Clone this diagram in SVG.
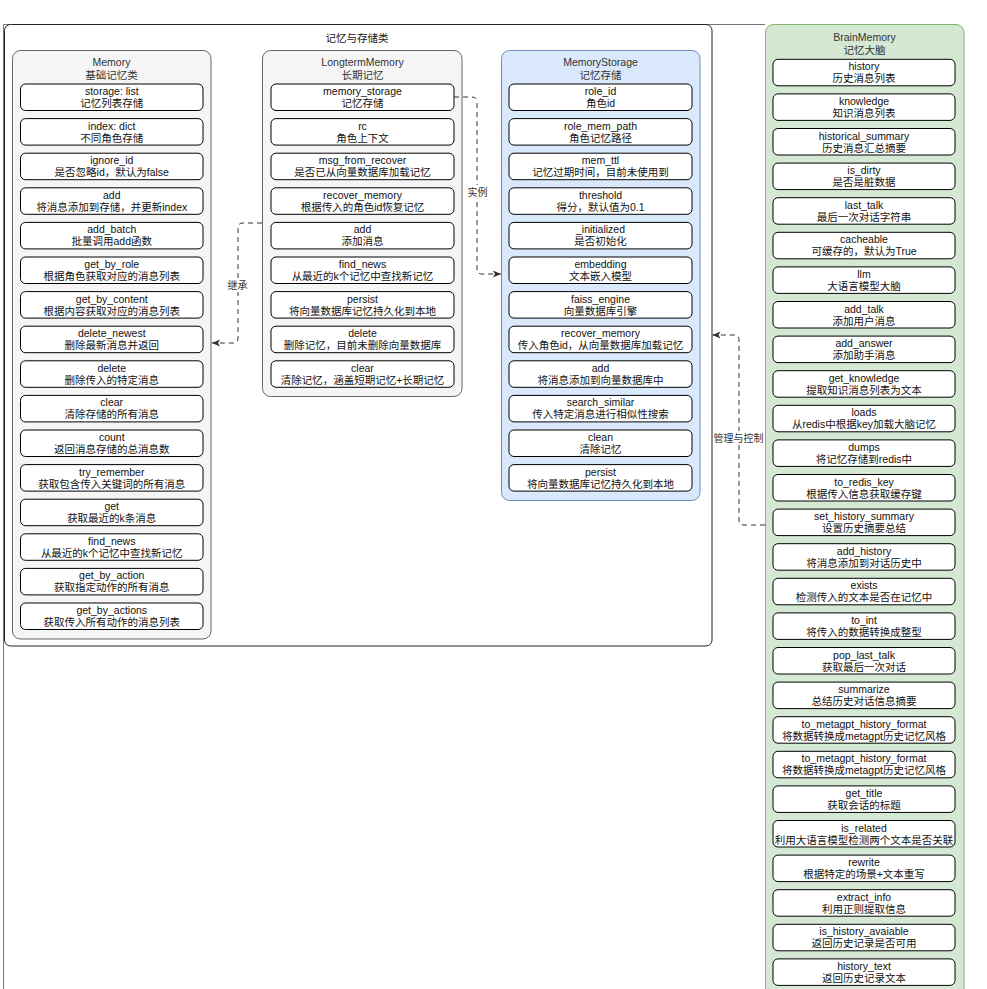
<svg xmlns="http://www.w3.org/2000/svg" width="987" height="989" viewBox="0 0 987 989">
<defs>
<style>
text{font-family:"Liberation Sans","Noto Sans CJK SC",sans-serif;font-size:10.5px;text-anchor:middle;fill:#111}
.frame{fill:none;stroke:#777;stroke-width:1}
.outer{fill:#fff;stroke:#222;stroke-width:1}
.g-gray{fill:#f5f5f5;stroke:#666}
.g-blue{fill:#dae8fc;stroke:#6c8ebf}
.g-green{fill:#d5e8d4;stroke:#82b366}
.gt{fill:#333}
.item rect{fill:#fff;stroke:#000;stroke-width:1}
.edge{fill:none;stroke:#333;stroke-width:1;stroke-dasharray:5 4}
.lbl{fill:#333;font-size:10px}
.lblbg{fill:#fff}
</style>
<marker id="arr" viewBox="0 0 8 8" refX="8" refY="4" markerWidth="8" markerHeight="8" markerUnits="userSpaceOnUse" orient="auto">
<path d="M0,0.5 L8,4 L0,7.5 L2,4 z" fill="#333"/>
</marker>
</defs>
<rect width="987" height="989" fill="#fff"/>
<path class="frame" d="M765,24.5 H3.5 V989"/>

<g id="container">
<rect class="outer" x="4.5" y="24.5" width="707.5" height="621.5" rx="6"/>
<text x="357" y="41.5">记忆与存储类</text>
</g>

<g id="Memory">
<rect class="g-gray" x="12.5" y="50.5" width="198.5" height="588.5" rx="8"/>
<text class="gt" x="111.5" y="65.5">Memory</text>
<text class="gt" x="111.5" y="79">基础记忆类</text>
<g id="m1" class="item" transform="translate(20.5,84)"><rect width="182.5" height="26.5" rx="5"/><text x="91.25" y="11">storage: list<tspan x="91.25" y="23">记忆列表存储</tspan></text></g>
<g id="m2" class="item" transform="translate(20.5,118.6)"><rect width="182.5" height="26.5" rx="5"/><text x="91.25" y="11">index: dict<tspan x="91.25" y="23">不同角色存储</tspan></text></g>
<g id="m3" class="item" transform="translate(20.5,153.2)"><rect width="182.5" height="26.5" rx="5"/><text x="91.25" y="11">ignore_id<tspan x="91.25" y="23">是否忽略id，默认为false</tspan></text></g>
<g id="m4" class="item" transform="translate(20.5,187.8)"><rect width="182.5" height="26.5" rx="5"/><text x="91.25" y="11">add<tspan x="91.25" y="23">将消息添加到存储，并更新index</tspan></text></g>
<g id="m5" class="item" transform="translate(20.5,222.4)"><rect width="182.5" height="26.5" rx="5"/><text x="91.25" y="11">add_batch<tspan x="91.25" y="23">批量调用add函数</tspan></text></g>
<g id="m6" class="item" transform="translate(20.5,257)"><rect width="182.5" height="26.5" rx="5"/><text x="91.25" y="11">get_by_role<tspan x="91.25" y="23">根据角色获取对应的消息列表</tspan></text></g>
<g id="m7" class="item" transform="translate(20.5,291.6)"><rect width="182.5" height="26.5" rx="5"/><text x="91.25" y="11">get_by_content<tspan x="91.25" y="23">根据内容获取对应的消息列表</tspan></text></g>
<g id="m8" class="item" transform="translate(20.5,326.2)"><rect width="182.5" height="26.5" rx="5"/><text x="91.25" y="11">delete_newest<tspan x="91.25" y="23">删除最新消息并返回</tspan></text></g>
<g id="m9" class="item" transform="translate(20.5,360.8)"><rect width="182.5" height="26.5" rx="5"/><text x="91.25" y="11">delete<tspan x="91.25" y="23">删除传入的特定消息</tspan></text></g>
<g id="m10" class="item" transform="translate(20.5,395.4)"><rect width="182.5" height="26.5" rx="5"/><text x="91.25" y="11">clear<tspan x="91.25" y="23">清除存储的所有消息</tspan></text></g>
<g id="m11" class="item" transform="translate(20.5,430)"><rect width="182.5" height="26.5" rx="5"/><text x="91.25" y="11">count<tspan x="91.25" y="23">返回消息存储的总消息数</tspan></text></g>
<g id="m12" class="item" transform="translate(20.5,464.6)"><rect width="182.5" height="26.5" rx="5"/><text x="91.25" y="11">try_remember<tspan x="91.25" y="23">获取包含传入关键词的所有消息</tspan></text></g>
<g id="m13" class="item" transform="translate(20.5,499.2)"><rect width="182.5" height="26.5" rx="5"/><text x="91.25" y="11">get<tspan x="91.25" y="23">获取最近的k条消息</tspan></text></g>
<g id="m14" class="item" transform="translate(20.5,533.8)"><rect width="182.5" height="26.5" rx="5"/><text x="91.25" y="11">find_news<tspan x="91.25" y="23">从最近的k个记忆中查找新记忆</tspan></text></g>
<g id="m15" class="item" transform="translate(20.5,568.4)"><rect width="182.5" height="26.5" rx="5"/><text x="91.25" y="11">get_by_action<tspan x="91.25" y="23">获取指定动作的所有消息</tspan></text></g>
<g id="m16" class="item" transform="translate(20.5,603)"><rect width="182.5" height="26.5" rx="5"/><text x="91.25" y="11">get_by_actions<tspan x="91.25" y="23">获取传入所有动作的消息列表</tspan></text></g>
</g>

<g id="LongtermMemory">
<rect class="g-gray" x="262.5" y="50.5" width="199.5" height="346" rx="8"/>
<text class="gt" x="362.5" y="65.5">LongtermMemory</text>
<text class="gt" x="362.5" y="79">长期记忆</text>
<g id="l1" class="item" transform="translate(271,84)"><rect width="183" height="26.5" rx="5"/><text x="91.5" y="11">memory_storage<tspan x="91.5" y="23">记忆存储</tspan></text></g>
<g id="l2" class="item" transform="translate(271,118.6)"><rect width="183" height="26.5" rx="5"/><text x="91.5" y="11">rc<tspan x="91.5" y="23">角色上下文</tspan></text></g>
<g id="l3" class="item" transform="translate(271,153.2)"><rect width="183" height="26.5" rx="5"/><text x="91.5" y="11">msg_from_recover<tspan x="91.5" y="23">是否已从向量数据库加载记忆</tspan></text></g>
<g id="l4" class="item" transform="translate(271,187.8)"><rect width="183" height="26.5" rx="5"/><text x="91.5" y="11">recover_memory<tspan x="91.5" y="23">根据传入的角色id恢复记忆</tspan></text></g>
<g id="l5" class="item" transform="translate(271,222.4)"><rect width="183" height="26.5" rx="5"/><text x="91.5" y="11">add<tspan x="91.5" y="23">添加消息</tspan></text></g>
<g id="l6" class="item" transform="translate(271,257)"><rect width="183" height="26.5" rx="5"/><text x="91.5" y="11">find_news<tspan x="91.5" y="23">从最近的k个记忆中查找新记忆</tspan></text></g>
<g id="l7" class="item" transform="translate(271,291.6)"><rect width="183" height="26.5" rx="5"/><text x="91.5" y="11">persist<tspan x="91.5" y="23">将向量数据库记忆持久化到本地</tspan></text></g>
<g id="l8" class="item" transform="translate(271,326.2)"><rect width="183" height="26.5" rx="5"/><text x="91.5" y="11">delete<tspan x="91.5" y="23">删除记忆，目前未删除向量数据库</tspan></text></g>
<g id="l9" class="item" transform="translate(271,360.8)"><rect width="183" height="26.5" rx="5"/><text x="91.5" y="11">clear<tspan x="91.5" y="23">清除记忆，涵盖短期记忆+长期记忆</tspan></text></g>
</g>

<g id="MemoryStorage">
<rect class="g-blue" x="501.5" y="50.5" width="198.5" height="450" rx="8"/>
<text class="gt" x="600.5" y="65.5">MemoryStorage</text>
<text class="gt" x="600.5" y="79">记忆存储</text>
<g id="s1" class="item" transform="translate(509,84)"><rect width="183" height="26.5" rx="5"/><text x="91.5" y="11">role_id<tspan x="91.5" y="23">角色id</tspan></text></g>
<g id="s2" class="item" transform="translate(509,118.6)"><rect width="183" height="26.5" rx="5"/><text x="91.5" y="11">role_mem_path<tspan x="91.5" y="23">角色记忆路径</tspan></text></g>
<g id="s3" class="item" transform="translate(509,153.2)"><rect width="183" height="26.5" rx="5"/><text x="91.5" y="11">mem_ttl<tspan x="91.5" y="23">记忆过期时间，目前未使用到</tspan></text></g>
<g id="s4" class="item" transform="translate(509,187.8)"><rect width="183" height="26.5" rx="5"/><text x="91.5" y="11">threshold<tspan x="91.5" y="23">得分，默认值为0.1</tspan></text></g>
<g id="s5" class="item" transform="translate(509,222.4)"><rect width="183" height="26.5" rx="5"/><text x="91.5" y="11">_initialized<tspan x="91.5" y="23">是否初始化</tspan></text></g>
<g id="s6" class="item" transform="translate(509,257)"><rect width="183" height="26.5" rx="5"/><text x="91.5" y="11">embedding<tspan x="91.5" y="23">文本嵌入模型</tspan></text></g>
<g id="s7" class="item" transform="translate(509,291.6)"><rect width="183" height="26.5" rx="5"/><text x="91.5" y="11">faiss_engine<tspan x="91.5" y="23">向量数据库引擎</tspan></text></g>
<g id="s8" class="item" transform="translate(509,326.2)"><rect width="183" height="26.5" rx="5"/><text x="91.5" y="11">recover_memory<tspan x="91.5" y="23">传入角色id，从向量数据库加载记忆</tspan></text></g>
<g id="s9" class="item" transform="translate(509,360.8)"><rect width="183" height="26.5" rx="5"/><text x="91.5" y="11">add<tspan x="91.5" y="23">将消息添加到向量数据库中</tspan></text></g>
<g id="s10" class="item" transform="translate(509,395.4)"><rect width="183" height="26.5" rx="5"/><text x="91.5" y="11">search_similar<tspan x="91.5" y="23">传入特定消息进行相似性搜索</tspan></text></g>
<g id="s11" class="item" transform="translate(509,430)"><rect width="183" height="26.5" rx="5"/><text x="91.5" y="11">clean<tspan x="91.5" y="23">清除记忆</tspan></text></g>
<g id="s12" class="item" transform="translate(509,464.6)"><rect width="183" height="26.5" rx="5"/><text x="91.5" y="11">persist<tspan x="91.5" y="23">将向量数据库记忆持久化到本地</tspan></text></g>
</g>

<g id="BrainMemory">
<rect class="g-green" x="765.5" y="24.5" width="198.5" height="980" rx="8"/>
<text class="gt" x="864.5" y="41">BrainMemory</text>
<text class="gt" x="864.5" y="54">记忆大脑</text>
<g id="b1" class="item" transform="translate(773,59.3)"><rect width="182" height="26.5" rx="5"/><text x="91" y="11">history<tspan x="91" y="23">历史消息列表</tspan></text></g>
<g id="b2" class="item" transform="translate(773,93.9)"><rect width="182" height="26.5" rx="5"/><text x="91" y="11">knowledge<tspan x="91" y="23">知识消息列表</tspan></text></g>
<g id="b3" class="item" transform="translate(773,128.5)"><rect width="182" height="26.5" rx="5"/><text x="91" y="11">historical_summary<tspan x="91" y="23">历史消息汇总摘要</tspan></text></g>
<g id="b4" class="item" transform="translate(773,163.1)"><rect width="182" height="26.5" rx="5"/><text x="91" y="11">is_dirty<tspan x="91" y="23">是否是脏数据</tspan></text></g>
<g id="b5" class="item" transform="translate(773,197.7)"><rect width="182" height="26.5" rx="5"/><text x="91" y="11">last_talk<tspan x="91" y="23">最后一次对话字符串</tspan></text></g>
<g id="b6" class="item" transform="translate(773,232.3)"><rect width="182" height="26.5" rx="5"/><text x="91" y="11">cacheable<tspan x="91" y="23">可缓存的，默认为True</tspan></text></g>
<g id="b7" class="item" transform="translate(773,266.9)"><rect width="182" height="26.5" rx="5"/><text x="91" y="11">llm<tspan x="91" y="23">大语言模型大脑</tspan></text></g>
<g id="b8" class="item" transform="translate(773,301.5)"><rect width="182" height="26.5" rx="5"/><text x="91" y="11">add_talk<tspan x="91" y="23">添加用户消息</tspan></text></g>
<g id="b9" class="item" transform="translate(773,336.1)"><rect width="182" height="26.5" rx="5"/><text x="91" y="11">add_answer<tspan x="91" y="23">添加助手消息</tspan></text></g>
<g id="b10" class="item" transform="translate(773,370.7)"><rect width="182" height="26.5" rx="5"/><text x="91" y="11">get_knowledge<tspan x="91" y="23">提取知识消息列表为文本</tspan></text></g>
<g id="b11" class="item" transform="translate(773,405.3)"><rect width="182" height="26.5" rx="5"/><text x="91" y="11">loads<tspan x="91" y="23">从redis中根据key加载大脑记忆</tspan></text></g>
<g id="b12" class="item" transform="translate(773,439.9)"><rect width="182" height="26.5" rx="5"/><text x="91" y="11">dumps<tspan x="91" y="23">将记忆存储到redis中</tspan></text></g>
<g id="b13" class="item" transform="translate(773,474.5)"><rect width="182" height="26.5" rx="5"/><text x="91" y="11">to_redis_key<tspan x="91" y="23">根据传入信息获取缓存键</tspan></text></g>
<g id="b14" class="item" transform="translate(773,509.1)"><rect width="182" height="26.5" rx="5"/><text x="91" y="11">set_history_summary<tspan x="91" y="23">设置历史摘要总结</tspan></text></g>
<g id="b15" class="item" transform="translate(773,543.7)"><rect width="182" height="26.5" rx="5"/><text x="91" y="11">add_history<tspan x="91" y="23">将消息添加到对话历史中</tspan></text></g>
<g id="b16" class="item" transform="translate(773,578.3)"><rect width="182" height="26.5" rx="5"/><text x="91" y="11">exists<tspan x="91" y="23">检测传入的文本是否在记忆中</tspan></text></g>
<g id="b17" class="item" transform="translate(773,612.9)"><rect width="182" height="26.5" rx="5"/><text x="91" y="11">to_int<tspan x="91" y="23">将传入的数据转换成整型</tspan></text></g>
<g id="b18" class="item" transform="translate(773,647.5)"><rect width="182" height="26.5" rx="5"/><text x="91" y="11">pop_last_talk<tspan x="91" y="23">获取最后一次对话</tspan></text></g>
<g id="b19" class="item" transform="translate(773,682.1)"><rect width="182" height="26.5" rx="5"/><text x="91" y="11">summarize<tspan x="91" y="23">总结历史对话信息摘要</tspan></text></g>
<g id="b20" class="item" transform="translate(773,716.7)"><rect width="182" height="26.5" rx="5"/><text x="91" y="11">to_metagpt_history_format<tspan x="91" y="23">将数据转换成metagpt历史记忆风格</tspan></text></g>
<g id="b21" class="item" transform="translate(773,751.3)"><rect width="182" height="26.5" rx="5"/><text x="91" y="11">to_metagpt_history_format<tspan x="91" y="23">将数据转换成metagpt历史记忆风格</tspan></text></g>
<g id="b22" class="item" transform="translate(773,785.9)"><rect width="182" height="26.5" rx="5"/><text x="91" y="11">get_title<tspan x="91" y="23">获取会话的标题</tspan></text></g>
<g id="b23" class="item" transform="translate(773,820.5)"><rect width="182" height="26.5" rx="5"/><text x="91" y="11">is_related<tspan x="91" y="23">利用大语言模型检测两个文本是否关联</tspan></text></g>
<g id="b24" class="item" transform="translate(773,855.1)"><rect width="182" height="26.5" rx="5"/><text x="91" y="11">rewrite<tspan x="91" y="23">根据特定的场景+文本重写</tspan></text></g>
<g id="b25" class="item" transform="translate(773,889.7)"><rect width="182" height="26.5" rx="5"/><text x="91" y="11">extract_info<tspan x="91" y="23">利用正则提取信息</tspan></text></g>
<g id="b26" class="item" transform="translate(773,924.3)"><rect width="182" height="26.5" rx="5"/><text x="91" y="11">is_history_avaiable<tspan x="91" y="23">返回历史记录是否可用</tspan></text></g>
<g id="b27" class="item" transform="translate(773,958.9)"><rect width="182" height="26.5" rx="5"/><text x="91" y="11">history_text<tspan x="91" y="23">返回历史记录文本</tspan></text></g>
</g>

<g id="connectors">
<path class="edge" d="M262,223 H243 Q238,223 238,228 V338 Q238,343 233,343 H212" marker-end="url(#arr)"/>
<rect class="lblbg" x="226" y="278" width="23" height="14"/>
<text class="lbl" x="237.5" y="289">继承</text>
<path class="edge" d="M454,97 H472 Q477,97 477,102 V269 Q477,274 482,274 H501" marker-end="url(#arr)"/>
<rect class="lblbg" x="466" y="185" width="23" height="14"/>
<text class="lbl" x="477.5" y="195.5">实例</text>
<path class="edge" d="M765,525 H744 Q739,525 739,520 V340 Q739,335 734,335 H712.5" marker-end="url(#arr)"/>
<rect class="lblbg" x="714" y="431" width="49" height="14"/>
<text class="lbl" x="738.5" y="441.5">管理与控制</text>
</g>
</svg>
